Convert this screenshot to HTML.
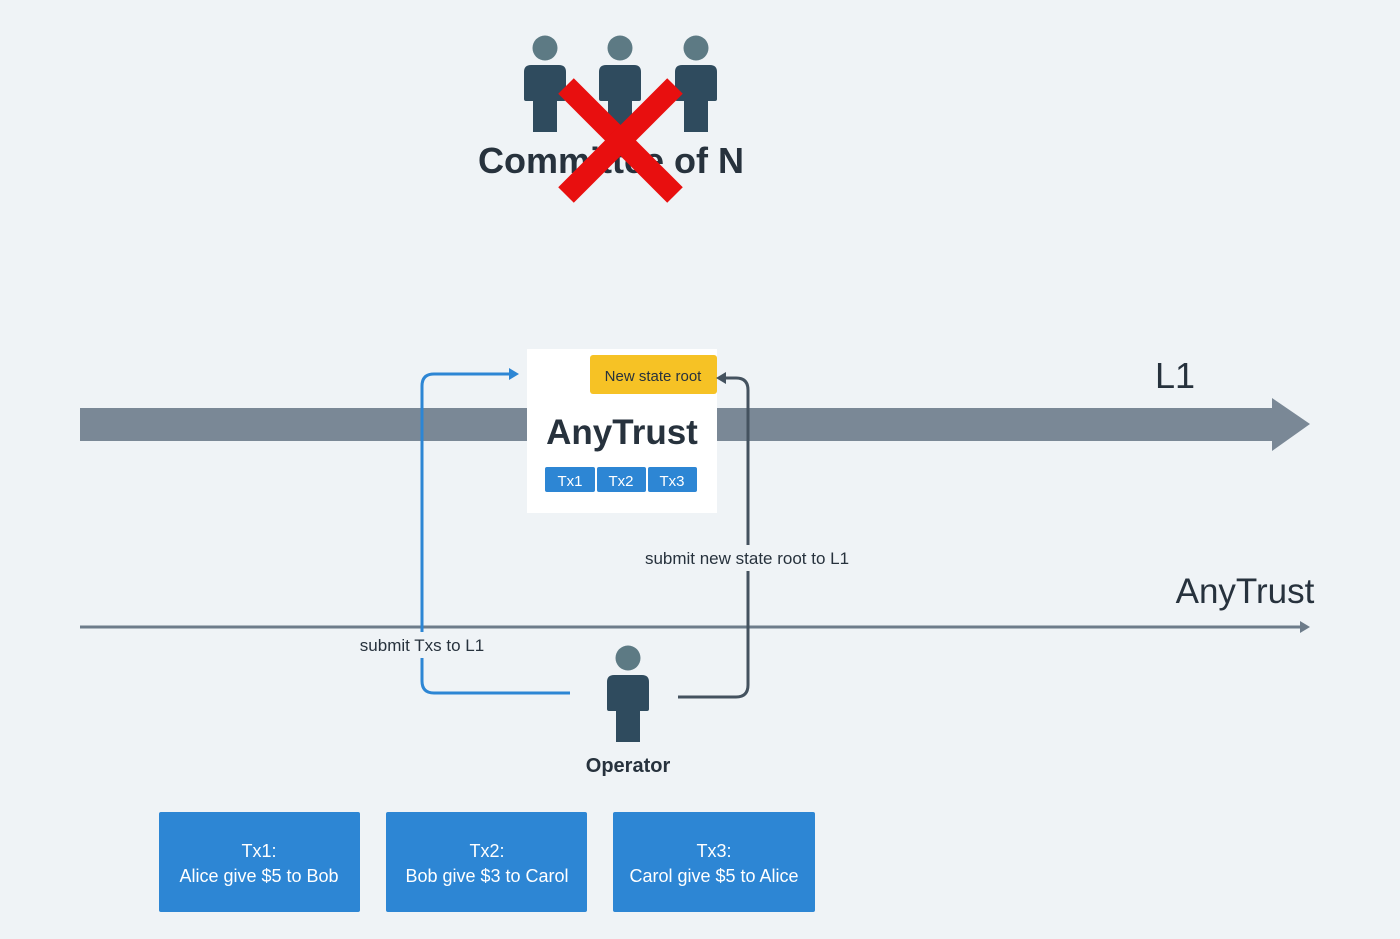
<!DOCTYPE html>
<html><head><meta charset="utf-8"><style>
body{margin:0;width:1400px;height:939px;background:#eff3f6;overflow:hidden;font-family:"Liberation Sans","DejaVu Sans",sans-serif;}
</style></head><body>
<svg width="1400" height="939" viewBox="0 0 1400 939" xmlns="http://www.w3.org/2000/svg" style="position:absolute;left:0;top:0">
<defs>
<g id="p">
<circle cx="0" cy="0" r="12.5" fill="#5d7a84"/>
<path d="M-21,24 Q-21,17 -14,17 L14,17 Q21,17 21,24 L21,51 Q21,53 19,53 L12,53 L12,84 L-12,84 L-12,53 L-19,53 Q-21,53 -21,51 Z" fill="#2f4b5e"/>
</g>
</defs>
<!-- committee -->
<use href="#p" x="545" y="48"/>
<use href="#p" x="620" y="48"/>
<use href="#p" x="696" y="48"/>
<text x="611" y="173" text-anchor="middle" font-size="36" font-weight="bold" fill="#27323d">Committee of N</text>
<line x1="566" y1="86" x2="675" y2="195" stroke="#e80f0f" stroke-width="22"/>
<line x1="675" y1="86" x2="566" y2="195" stroke="#e80f0f" stroke-width="22"/>
<!-- L1 bar -->
<rect x="80" y="408" width="1194" height="33" fill="#7a8896"/>
<polygon points="1272,398 1310,424 1272,451" fill="#7a8896"/>
<text x="1175" y="388" text-anchor="middle" font-size="36" fill="#27323d">L1</text>
<!-- thin line -->
<line x1="80" y1="627" x2="1302" y2="627" stroke="#6d7c8a" stroke-width="3"/>
<polygon points="1300,621 1310,627 1300,633" fill="#6d7c8a"/>
<text x="1245" y="603" text-anchor="middle" font-size="35" fill="#27323d">AnyTrust</text>
<!-- AnyTrust box -->
<rect x="527" y="349" width="190" height="164" fill="#ffffff"/>
<rect x="590" y="355" width="127" height="39" rx="3" fill="#f6c225"/>
<text x="653" y="381" text-anchor="middle" font-size="15" fill="#27323d">New state root</text>
<text x="622" y="444" text-anchor="middle" font-size="35" font-weight="bold" fill="#27323d">AnyTrust</text>
<rect x="545" y="467" width="50" height="25" rx="2" fill="#2d86d4"/>
<rect x="597" y="467" width="49" height="25" rx="2" fill="#2d86d4"/>
<rect x="648" y="467" width="49" height="25" rx="2" fill="#2d86d4"/>
<text x="570" y="486" text-anchor="middle" font-size="15" fill="#fff">Tx1</text>
<text x="621" y="486" text-anchor="middle" font-size="15" fill="#fff">Tx2</text>
<text x="672" y="486" text-anchor="middle" font-size="15" fill="#fff">Tx3</text>
<!-- blue path -->
<path d="M570,693 L434,693 Q422,693 422,681 L422,386 Q422,374 434,374 L510,374" fill="none" stroke="#2d86d4" stroke-width="3"/>
<polygon points="509,368 519,374 509,380" fill="#2d86d4"/>
<!-- dark path -->
<path d="M678,697 L736,697 Q748,697 748,685 L748,390 Q748,378 736,378 L724,378" fill="none" stroke="#44525f" stroke-width="3"/>
<polygon points="726,372 716,378 726,384" fill="#44525f"/>
<rect x="634" y="545" width="228" height="26" fill="#eff3f6"/>
<text x="747" y="564" text-anchor="middle" font-size="17" fill="#27323d">submit new state root to L1</text>
<rect x="352" y="632" width="140" height="26" fill="#eff3f6"/>
<text x="422" y="651" text-anchor="middle" font-size="17" fill="#27323d">submit Txs to L1</text>
<!-- operator -->
<use href="#p" x="628" y="658"/>
<text x="628" y="772" text-anchor="middle" font-size="20" font-weight="bold" fill="#27323d">Operator</text>
<!-- tx boxes -->
<rect x="159" y="812" width="201" height="100" rx="2" fill="#2d86d4"/>
<rect x="386" y="812" width="201" height="100" rx="2" fill="#2d86d4"/>
<rect x="613" y="812" width="202" height="100" rx="2" fill="#2d86d4"/>
<g font-size="18" fill="#fff" text-anchor="middle">
<text x="259" y="857">Tx1:</text><text x="259" y="882">Alice give $5 to Bob</text>
<text x="487" y="857">Tx2:</text><text x="487" y="882">Bob give $3 to Carol</text>
<text x="714" y="857">Tx3:</text><text x="714" y="882">Carol give $5 to Alice</text>
</g>
</svg>
</body></html>
